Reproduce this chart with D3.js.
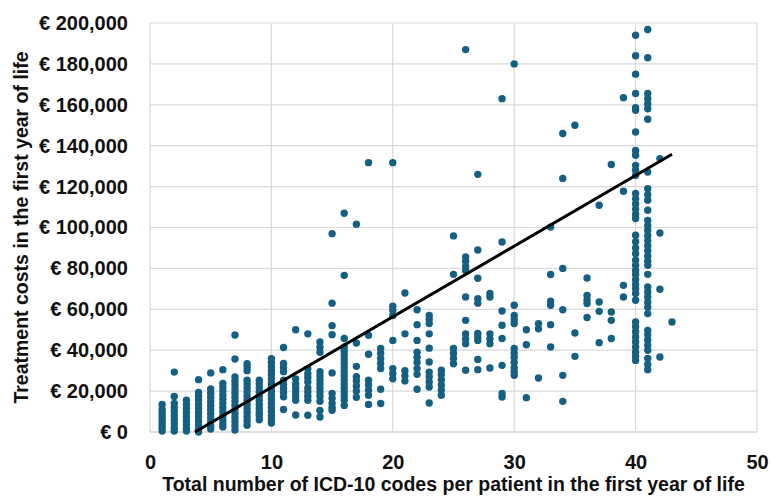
<!DOCTYPE html>
<html>
<head>
<meta charset="utf-8">
<script src="https://cdn.jsdelivr.net/npm/d3@7"></script>
<style>
  body { margin: 0; background: #fff; }
  text { font-family: "Liberation Sans", Arial, sans-serif; font-weight: bold; fill: #111; }
</style>
</head>
<body>
<svg class="chart"></svg>
<script>
// number of ICD-10 codes (x) and the costs seen in that column, in thousands of euro
var codes = [1, 2, 3, 4, 5, 6, 7, 8, 9, 10,
             11, 12, 13, 14, 15, 16, 17, 18, 19, 20,
             21, 22, 23, 24, 25, 26, 27, 28, 29, 30,
             31, 32, 33, 34, 35, 36, 37, 38, 39, 40,
             41, 42, 43];

var costsK = [
  [0.5, 2, 3.5, 5, 6.5, 8, 9.5, 11, 13.5],
  [29.3, 17.4, 14, 12, 10, 8, 6, 4, 2, 0.5],
  [15.5, 13.5, 11.5, 9.5, 7.5, 5.5, 3.5, 1.5, 0.5],
  [25.6, 19.4, 17.5, 15.5, 13.5, 11.5, 9.5, 7.5, 5.5, 3.5, 1.5, 0],
  [28.9, 21, 19, 17, 15, 13, 11, 9, 7, 5, 3, 1.5],
  [30.5, 23.8, 22, 20, 18, 16, 14, 12, 10, 8, 6, 4, 2.5],
  [47.4, 35.7, 26.9, 25, 23, 21, 19, 17, 15, 13, 11, 9, 7, 5, 3, 1],
  [33.4, 31.8, 30, 25.3, 23.5, 21.5, 19.5, 17.5, 15.5, 13.5, 11.5, 9.5, 7.5, 5.5, 3.3],
  [25.3, 23.5, 21.5, 19.5, 17.5, 15.5, 13.5, 11.5, 9.5, 8, 6],
  [35.9, 34, 32, 30, 28, 26, 24, 22, 20, 18, 16, 14, 12, 10, 8, 6, 4.4],
  [41.3, 33.5, 31.5, 29.5, 25.3, 23.3, 21.3, 19.3, 17.2, 11],
  [50, 26, 23.5, 21.5, 19.5, 17.5, 15.5, 8.3],
  [48, 31, 28.5, 26.5, 24.5, 21.5, 19.6, 17.5, 15.5, 8.2],
  [44, 41.5, 39, 29.5, 27.5, 25.5, 23.5, 21.5, 19.5, 17.5, 15, 10.5, 7.3],
  [97, 63, 52, 47.6, 28.9, 18.8, 16.5, 14, 12, 10.6],
  [107, 76.6, 45.7, 41.6, 39.5, 37.5, 35.5, 33.5, 31.5, 29.5, 27.5, 25.5, 23.5, 21.5, 19.5, 17.5, 15.5, 13],
  [101.6, 43.5, 32.1, 27, 25, 22.5, 20, 17],
  [131.7, 47.3, 38, 25.3, 23, 20.5, 18, 13.5],
  [40.8, 38.5, 36, 33.5, 31, 20.9, 13.9],
  [131.7, 61.5, 59.5, 57, 44.8, 31, 28.5, 26],
  [68, 48, 30, 27.5, 25],
  [59.8, 52.5, 44.8, 39, 36.5, 34, 31, 28.2, 20.9],
  [57, 55, 53, 48, 41, 34.2, 29.3, 27, 24.5, 22, 14.2],
  [30.2, 28, 25.5, 23, 20.5, 18],
  [95.9, 77.1, 40.8, 38.5, 36, 33.4],
  [187, 85.6, 83.5, 81, 79, 66, 54.6, 48, 45.5, 43.2, 30.2],
  [126, 89, 75.2, 65.2, 63, 48.2, 46.5, 44.8, 35.5, 30.5],
  [67.7, 66, 48, 45.5, 43.2, 31.3],
  [163, 92.9, 59.2, 52.2, 45.7, 32.6, 18.8, 17.1],
  [180, 62, 57, 55, 53, 40.8, 38.5, 36.5, 34, 31.5, 29.5, 27.7],
  [50, 42.7, 16.8],
  [53, 50.5, 26.4],
  [100.2, 77, 64, 62, 52.5, 41.6],
  [146, 124, 80, 59.8, 27.7, 15],
  [150, 48.4, 37],
  [75.3, 66.8, 64.5, 62.8, 56],
  [110.9, 63.6, 59, 43.7],
  [130.8, 58.7, 54.6, 45.7],
  [163.5, 117.7, 71.7, 66],
  [194, 184, 175, 165.5, 158.6, 157.3, 146.7, 137.7, 135.3, 130.4, 128, 125.5,
   116.6, 114, 111.5, 109, 106.5, 104.4, 96.2, 93, 90, 87.2, 84, 81.5, 79, 77,
   74.5, 72, 70, 67.7, 64.4, 53.8, 51.5, 49, 46.5, 44, 41.5, 39, 37, 35],
  [196.8, 183, 165.5, 163, 160.5, 158.1, 152.9, 127.1, 119, 116, 113.3, 108.4,
   103.5, 101, 98.5, 96, 93.5, 91, 88.5, 86, 83.5, 81.5, 77.1, 70.9, 68.5, 66,
   63.5, 61, 57.9, 49.7, 47.5, 45, 42.5, 40, 36, 33, 30.5],
  [133.7, 97.3, 69.8, 36.7],
  [53.8]
];

var trendX = [3.7, 43];
var trendY = [0, 135800];

var xTicks = [0, 10, 20, 30, 40, 50];
var yTicks = [0, 20000, 40000, 60000, 80000, 100000, 120000, 140000, 160000, 180000, 200000];

var points = [];
codes.forEach(function(c, i) {
  costsK[i].forEach(function(v) { points.push({codes: c, cost: v * 1000}); });
});

var width = 771, height = 497;
var svg = d3.select(".chart").attr("width", width).attr("height", height),
    margin = {top: 23, right: 14, bottom: 65, left: 150},
    w = width - margin.left - margin.right,
    h = height - margin.top - margin.bottom,
    g = svg.append("g").attr("transform", "translate(" + margin.left + "," + margin.top + ")");

var x = d3.scaleLinear().domain([0, 50]).range([0, w]);
var y = d3.scaleLinear().domain([0, 200000]).range([h, 0]);

var fmt = d3.format(",");

// grid
g.append("g")
  .selectAll("line")
  .data(yTicks)
  .enter().append("line")
    .attr("x1", 0).attr("x2", w)
    .attr("y1", function(d) { return y(d); })
    .attr("y2", function(d) { return y(d); })
    .attr("stroke", function(d) { return d === 0 ? "#bfbfbf" : "#d9d9d9"; })
    .attr("stroke-width", 1.2);

g.append("g")
  .selectAll("line")
  .data(xTicks)
  .enter().append("line")
    .attr("y1", 0).attr("y2", h)
    .attr("x1", function(d) { return x(d); })
    .attr("x2", function(d) { return x(d); })
    .attr("stroke", "#d9d9d9")
    .attr("stroke-width", 1.2);

// axes (labels only)
g.append("g")
    .attr("transform", "translate(0," + h + ")")
    .call(d3.axisBottom(x).tickValues(xTicks).tickSize(0).tickPadding(23))
    .call(function(a) { a.select(".domain").remove(); })
    .selectAll("text")
    .attr("font-size", 20);

g.append("g")
    .call(d3.axisLeft(y).tickValues(yTicks).tickSize(0).tickPadding(22)
      .tickFormat(function(d) { return "\u20ac " + fmt(d); }))
    .call(function(a) { a.select(".domain").remove(); })
    .selectAll("text")
    .attr("font-size", 20);

svg.selectAll(".tick text").attr("fill", "#111").style("font-family", "Liberation Sans, Arial, sans-serif");

// points
g.append("g")
  .selectAll("circle")
  .data(points)
  .enter().append("circle")
    .attr("cx", function(d) { return x(d.codes); })
    .attr("cy", function(d) { return y(d.cost); })
    .attr("r", 3.7)
    .attr("fill", "#156082");

// trend line
g.append("line")
    .attr("x1", x(trendX[0])).attr("y1", y(trendY[0]))
    .attr("x2", x(trendX[1])).attr("y2", y(trendY[1]))
    .attr("stroke", "#000")
    .attr("stroke-width", 3);

// axis titles
svg.append("text")
    .attr("x", margin.left + w / 2)
    .attr("y", 491)
    .attr("text-anchor", "middle")
    .attr("font-size", 19.5)
    .text("Total number of ICD-10 codes per patient in the first year of life");

svg.append("text")
    .attr("transform", "translate(28," + (margin.top + h / 2) + ") rotate(-90)")
    .attr("text-anchor", "middle")
    .attr("font-size", 19.5)
    .text("Treatment costs in the first year of life");
</script>
</body>
</html>
